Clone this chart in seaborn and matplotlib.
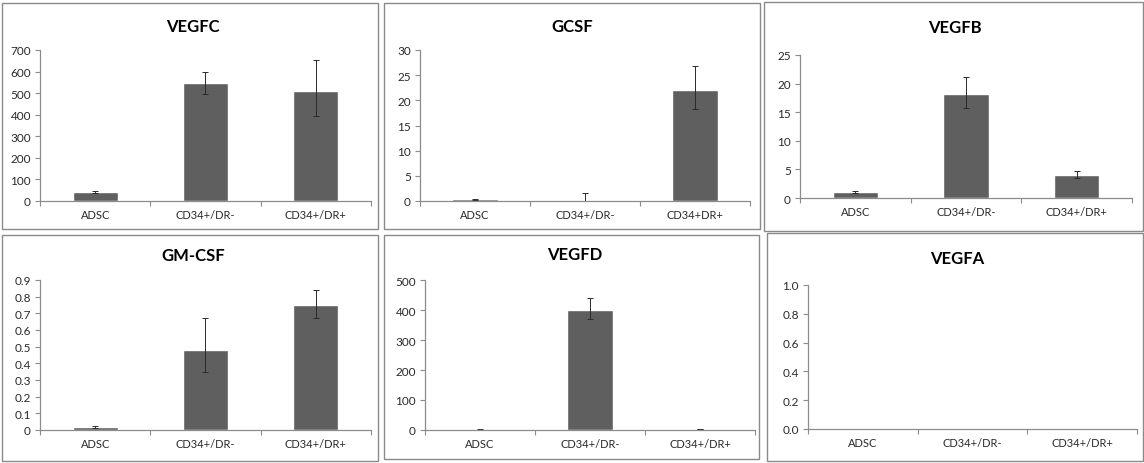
import matplotlib
matplotlib.use("Agg")
import matplotlib.pyplot as plt
import seaborn as sns
import pandas as pd
import numpy as np
from matplotlib.patches import Rectangle

sns.set_theme(style="white")
plt.rcParams['font.family'] = ['Lato', 'DejaVu Sans']

cats_a = ["ADSC", "CD34+/DR-", "CD34+/DR+"]
cats_gcsf = ["ADSC", "CD34+/DR-", "CD34+DR+"]

vegfc = [41, 545, 508]
vegfc_lo = [6, 50, 113]
vegfc_hi = [6, 55, 145]

gcsf = [0.3, 0.25, 22.1]
gcsf_lo = [0.1, 1.4, 3.9]
gcsf_hi = [0.1, 1.4, 4.8]

vegfb = [1.05, 18.1, 3.95]
vegfb_lo = [0.15, 2.3, 0.45]
vegfb_hi = [0.15, 3.0, 0.7]

gmcsf = [0.018, 0.48, 0.75]
gmcsf_lo = [0.005, 0.134, 0.078]
gmcsf_hi = [0.005, 0.19, 0.09]

vegfd = [2, 401, 4]
vegfd_lo = [0.5, 31, 1]
vegfd_hi = [0.5, 40, 1]

vegfa = [0, 0, 0]

panels = [
    # title, cats, vals, lo, hi, ymax, ystep, fmt
    ("VEGFC", cats_a, vegfc, vegfc_lo, vegfc_hi, 700, 100, "{:.0f}"),
    ("GCSF", cats_gcsf, gcsf, gcsf_lo, gcsf_hi, 30, 5, "{:.0f}"),
    ("VEGFB", cats_a, vegfb, vegfb_lo, vegfb_hi, 25, 5, "{:.0f}"),
    ("GM-CSF", cats_a, gmcsf, gmcsf_lo, gmcsf_hi, 0.9, 0.1, "{:g}"),
    ("VEGFD", cats_a, vegfd, vegfd_lo, vegfd_hi, 500, 100, "{:.0f}"),
    ("VEGFA", cats_a, vegfa, None, None, 1.0, 0.2, "{:.1f}"),
]

W, H = 1144, 464
# axes pixel boxes (x0, x1, ytop, ybottom)
axes_px = [
    (40, 371, 51, 202),
    (420, 750, 51, 202),
    (800, 1132, 56, 199),
    (40, 371, 281, 431),
    (425, 755, 281, 431),
    (808, 1137, 286, 430),
]
# panel borders (x0, y0, x1, y1)
boxes_px = [
    (2, 4, 378, 230),
    (384, 4, 760, 230),
    (764, 3, 1143, 232),
    (2, 236, 378, 462),
    (384, 236, 759, 460),
    (767, 234, 1143, 462),
]
title_px = [(193, 27), (572, 27), (955, 28), (193, 256), (575, 255), (957, 259)]

fig = plt.figure(figsize=(W / 100, H / 100), dpi=100)
fig.patch.set_facecolor("white")

for (x0, y0, x1, y1) in boxes_px:
    fig.patches.append(Rectangle((x0 / W, 1 - y1 / H), (x1 - x0) / W, (y1 - y0) / H,
                                 transform=fig.transFigure, fill=False,
                                 edgecolor="#8a8a8a", linewidth=1.0))

bar_color = "#5f5f5f"
axis_color = "#8c8c8c"
text_color = "#2a2a2a"

for i, (title, cats, vals, lo, hi, ymax, ystep, fmt) in enumerate(panels):
    x0, x1, yt, yb = axes_px[i]
    ax = fig.add_axes([x0 / W, 1 - yb / H, (x1 - x0) / W, (yb - yt) / H])
    df = pd.DataFrame({"cat": cats, "val": vals})
    sns.barplot(data=df, x="cat", y="val", ax=ax, color=bar_color, width=0.41,
                errorbar=None, saturation=1)
    if lo is not None:
        ax.errorbar(x=np.arange(len(cats)), y=vals, yerr=[lo, hi], fmt="none",
                    ecolor="#2a2a2a", elinewidth=0.7, capsize=2.2, capthick=0.7)
    ax.set_xlim(-0.5, len(cats) - 0.5)
    ax.set_ylim(0, ymax)
    ticks = np.round(np.arange(0, ymax + ystep / 2, ystep), 6)
    ax.set_yticks(ticks)
    ax.set_yticklabels([fmt.format(t) for t in ticks])
    ax.set_xlabel("")
    ax.set_ylabel("")
    for s in ["top", "right"]:
        ax.spines[s].set_visible(False)
    for s in ["left", "bottom"]:
        ax.spines[s].set_color(axis_color)
        ax.spines[s].set_linewidth(0.9)
    ax.tick_params(axis="y", which="major", direction="out", length=3.5, width=0.8,
                   color=axis_color, labelsize=8.5, labelcolor=text_color, pad=3, left=True)
    ax.tick_params(axis="x", which="major", length=0, labelsize=8, labelcolor=text_color, pad=6)
    ax.set_xticks(np.arange(-0.5, len(cats), 1.0), minor=True)
    ax.tick_params(axis="x", which="minor", direction="out", length=3.5, width=0.8,
                   color=axis_color, bottom=True)
    ax.set_facecolor("white")
    tx, ty = title_px[i]
    fig.text(tx / W, 1 - ty / H, title, ha="center", va="center",
             fontsize=12, fontweight="bold", color="black")

fig.savefig("out.png", dpi=100)
